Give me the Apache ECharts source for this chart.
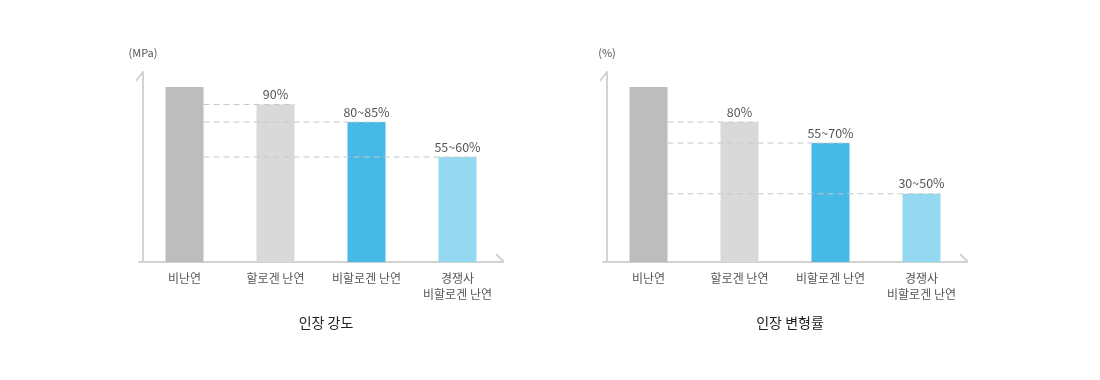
<!DOCTYPE html>
<html>
<head>
<meta charset="utf-8">
<script src="https://cdn.jsdelivr.net/npm/echarts@6/dist/echarts.min.js"></script>
<style>
html,body{margin:0;padding:0;background:#fff;}
#c{width:1100px;height:380px;}
</style>
</head>
<body>
<div id="c"></div>
<script>
const categories = ['비난연', '할로겐 난연', '비할로겐 난연', '경쟁사\n비할로겐 난연'];
const strengthValues = [100, 90, 80, 60];
const strengthLabels = ['', '90%', '80~85%', '55~60%'];
const elongationValues = [100, 80, 68, 39];
const elongationLabels = ['', '80%', '55~70%', '30~50%'];
const titles = ['인장 강도', '인장 변형률'];
const unitNames = ['(MPa)', '(%)'];

const FONT = '"Noto Sans CJK KR", "Noto Sans", sans-serif';
const barColors = ['#bdbdbd', '#d9d9d9', '#46b9e6', '#94d8f2'];
const axisColor = '#d2d2d2';
const BAR_W = 38;
const AXIS_SHIFT = 4;
const grids = [
  { left: 139, top: 72, width: 364, height: 190 },
  { left: 603, top: 72, width: 364, height: 190 }
];

function xAxisFor(i) {
  return {
    type: 'category', gridIndex: i, data: categories,
    axisLine: { show: true, lineStyle: { color: axisColor, width: 2 } },
    axisTick: { show: false },
    axisLabel: { color: '#555', fontSize: 12, fontFamily: FONT, lineHeight: 16, margin: 8 }
  };
}
function yAxisFor(i) {
  return {
    type: 'value', gridIndex: i, min: 0, max: 108.6, offset: -AXIS_SHIFT,
    name: unitNames[i], nameLocation: 'end', nameGap: 14,
    nameTextStyle: { color: '#555', fontSize: 11, fontFamily: FONT },
    axisLine: { show: true, lineStyle: { color: axisColor, width: 2 } },
    axisTick: { show: false }, axisLabel: { show: false }, splitLine: { show: false }
  };
}
function barSeries(i, values, labels) {
  return {
    type: 'bar', xAxisIndex: i, yAxisIndex: i, barWidth: BAR_W,
    data: values.map((v, k) => ({ value: v, itemStyle: { color: barColors[k] } })),
    label: {
      show: true, position: 'top', distance: 4, color: '#555', fontSize: 12.5, fontFamily: FONT,
      formatter: p => labels[p.dataIndex]
    },
    z: 2
  };
}
function dashSeries(i, values) {
  const data = values.map((v, k) => [k, v]).slice(1);
  return {
    type: 'custom', xAxisIndex: i, yAxisIndex: i, z: 5, silent: true,
    data: data,
    renderItem: function (params, api) {
      const idx = api.value(0), v = api.value(1);
      const s = api.coord([0, v]);
      const e = api.coord([idx, v]);
      return {
        type: 'line',
        shape: { x1: s[0] + BAR_W / 2, y1: s[1], x2: e[0] + BAR_W / 2, y2: e[1] },
        style: { stroke: '#c8c8c8', lineWidth: 1, lineDash: [6, 4] }
      };
    }
  };
}
function slants(g) {
  const ax = g.left + AXIS_SHIFT, top = g.top, bottom = g.top + g.height, right = g.left + g.width + 1;
  const st = { stroke: axisColor, lineWidth: 2 };
  return [
    { type: 'line', shape: { x1: ax, y1: top, x2: ax - 7, y2: top + 9 }, style: st, silent: true },
    { type: 'line', shape: { x1: right, y1: bottom, x2: right - 8, y2: bottom - 8 }, style: st, silent: true }
  ];
}

const chart = echarts.init(document.getElementById('c'), null, { renderer: 'canvas' });
chart.setOption({
  backgroundColor: '#fff',
  animation: false,
  title: titles.map((t, i) => ({
    text: t, left: grids[i].left + grids[i].width / 2, top: 311, textAlign: 'center',
    textStyle: { color: '#222', fontSize: 14, fontWeight: 'normal', fontFamily: FONT }
  })),
  grid: grids,
  xAxis: [xAxisFor(0), xAxisFor(1)],
  yAxis: [yAxisFor(0), yAxisFor(1)],
  series: [
    barSeries(0, strengthValues, strengthLabels),
    dashSeries(0, strengthValues),
    barSeries(1, elongationValues, elongationLabels),
    dashSeries(1, elongationValues)
  ],
  graphic: slants(grids[0]).concat(slants(grids[1]))
});
</script>
</body>
</html>
